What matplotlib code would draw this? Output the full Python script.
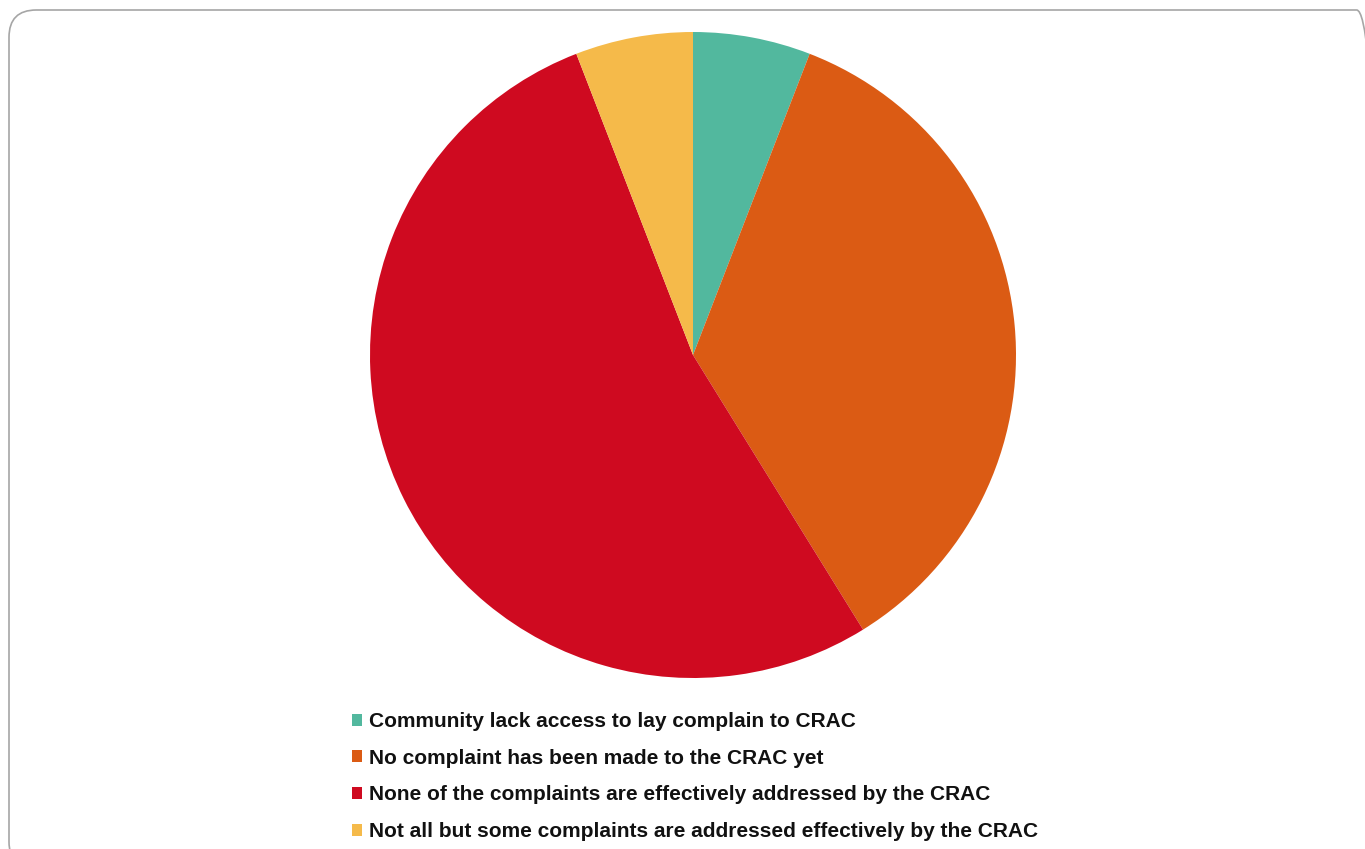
import matplotlib.pyplot as plt
from matplotlib.patches import FancyBboxPatch, Patch

labels = [
    'Community lack access to lay complain to CRAC',
    'No complaint has been made to the CRAC yet',
    'None of the complaints are effectively addressed by the CRAC',
    'Not all but some complaints are addressed effectively by the CRAC',
]
counts = [1, 6, 9, 1]
colors = ['#52B89E', '#DB5B14', '#CF0A20', '#F5BA4A']

plt.rcParams['font.family'] = ['Liberation Sans', 'DejaVu Sans']

W, H = 1365, 849
fig = plt.figure(figsize=(W / 100, H / 100), dpi=100)

# rounded frame around the chart area
frame = FancyBboxPatch((9 / W, -20 / H), (W + 10) / W, (H + 10) / H,
                       boxstyle='round,pad=0,rounding_size=0.02',
                       transform=fig.transFigure, facecolor='none',
                       edgecolor='#a6a6a6', linewidth=1.2, mutation_aspect=W / H,
                       zorder=-1)
fig.patches.append(frame)

r = 323
cx, cy = 693, 355
ax = fig.add_axes([(cx - r) / W, (H - cy - r) / H, 2 * r / W, 2 * r / H])
ax.pie(counts, colors=colors, startangle=90, counterclock=False,
       wedgeprops=dict(linewidth=0))
ax.set_xlim(-1, 1)
ax.set_ylim(-1, 1)
ax.set_aspect('equal')
ax.axis('off')

handles = [Patch(facecolor=c, edgecolor='none') for c in colors]
fig.legend(handles, labels, loc='upper left',
           bbox_to_anchor=(352 / W, 1 - 712 / H), frameon=False,
           prop=dict(size=15, weight='bold'), labelcolor='#111111',
           handlelength=0.5, handleheight=0.5, handletextpad=0.3,
           labelspacing=0.85, borderpad=0, borderaxespad=0)

fig.savefig('out.png', dpi=100)
